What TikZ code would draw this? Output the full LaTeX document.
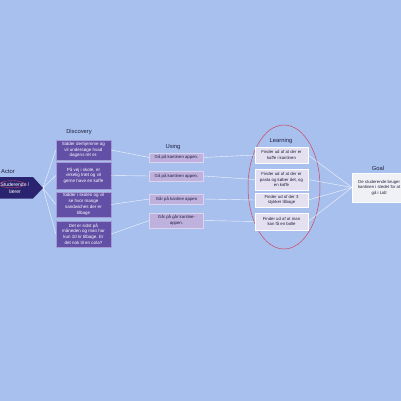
\documentclass[tikz,border=0pt]{standalone}
\usepackage{fontspec}
\setmainfont{Liberation Sans}
\definecolor{bg}{RGB}{168,192,238}
\definecolor{actorc}{RGB}{42,36,112}
\definecolor{discc}{RGB}{98,80,166}
\definecolor{discb}{RGB}{165,155,212}
\definecolor{usec}{RGB}{190,177,222}
\definecolor{learnc}{RGB}{228,224,240}
\definecolor{goalc}{RGB}{240,241,245}
\definecolor{labc}{RGB}{30,30,60}
\definecolor{ellc}{RGB}{205,70,95}
\tikzset{
  boxtxt/.style={font=\fontsize{4.3}{5.6}\selectfont, align=center, inner sep=0pt},
  dbox/.style={boxtxt, font=\fontsize{4.5}{5.8}\selectfont, fill=discc, draw=discb, line width=0.4pt, text=white},
  ubox/.style={boxtxt, fill=usec, draw=white!45!usec, line width=0.3pt, text=labc},
  lbox/.style={boxtxt, fill=learnc, draw=white, line width=0.3pt, text=labc},
  gbox/.style={boxtxt, fill=goalc, draw=white, line width=0.3pt, text=labc},
  lab/.style={font=\fontsize{5.8}{7}\selectfont, text=labc, inner sep=0pt},
  conn/.style={draw=white, draw opacity=0.85, line width=0.4pt}
}
\begin{document}
\begin{tikzpicture}[x=1pt,y=-1pt]
\useasboundingbox (0,0) rectangle (401,401);
\clip (0,0) rectangle (401,401);
\fill[bg] (0,0) rectangle (401,401);
% Learning ellipse
\draw[ellc, line width=0.5pt] (284,187) ellipse [x radius=36, y radius=62];
% Labels
\node[lab] (lact) at (8,172) {Actor};
\node[lab] (ldisc) at (79,132) {Discovery};
\node[lab] (luse) at (173,147) {Using};
\node[lab] (llearn) at (281,141) {Learning};
\node[lab] (lgoal) at (378,168) {Goal};
% Actor
\fill[actorc] (-5,177) -- (33,177) -- (43,188) -- (33,198.5) -- (-5,198.5) -- cycle;
\node[font=\fontsize{5}{7}\selectfont, text=white, align=center, inner sep=0pt] (actor) at (15,188) {Studerende /\\lærer};
\draw[ellc, line width=0.35pt] (12,184.3) ellipse [x radius=12.5, y radius=3.6];
\coordinate (atip) at (43,188);
% Discovery
\node[dbox, minimum width=55pt, minimum height=20pt] (d1) at (83.5,150) {Sidder derhjemme og\\vil undersøge hvad\\dagens ret er.};
\node[dbox, minimum width=55pt, minimum height=27pt] (d2) at (83.5,175.5) {På vej i skole, er\\virkelig træt og vil\\gerne have en kaffe};
\node[dbox, minimum width=55pt, minimum height=25pt] (d3) at (83.5,204.5) {Sidder i skolen og vil\\se hvor mange\\sandwiches der er\\tilbage};
\node[dbox, minimum width=55pt, minimum height=26pt] (d4) at (83.5,234) {Det er sidst på\\måneden og man har\\kun 10 kr tilbage. Er\\det nok til en cola?};
% Using
\node[ubox, minimum width=54pt, minimum height=9.5pt] (u1) at (176.5,157.5) {Gå på kantinen appen.};
\node[ubox, minimum width=54pt, minimum height=10pt] (u2) at (176.5,176) {Gå på kantinen appen.};
\node[ubox, minimum width=54pt, minimum height=10pt] (u3) at (176.5,199) {Går på kantine appen};
\node[ubox, minimum width=54pt, minimum height=15pt] (u4) at (176.5,220.5) {Går på går kantine-\\appen.};
% Learning
\node[lbox, minimum width=53pt, minimum height=16pt] (l1) at (281.5,155) {Finder ud af at der er\\kaffe i kantinen};
\node[lbox, minimum width=53pt, minimum height=21pt] (l2) at (281.5,179.5) {Finder ud af at der er\\pasta og køber det, og\\en kaffe};
\node[lbox, minimum width=53pt, minimum height=14pt] (l3) at (281.5,200) {Finder ud af der 3\\stykker tilbage};
\node[lbox, minimum width=53pt, minimum height=17pt] (l4) at (281.5,221.5) {Finder ud af at man\\kan få en bolle};
% Goal
\node[gbox, minimum width=54pt, minimum height=29pt, anchor=west] (g) at (352,187.5) {De studerende bruger\\kantinen i stedet for at\\gå i Lidl};
% Connectors
\foreach \d in {d1,d2,d3,d4} \draw[conn] (atip) -- (\d.west);
\draw[conn] (d1.east) -- (u1.west);
\draw[conn] (d2.east) -- (u2.west);
\draw[conn] (d3.east) -- (u3.west);
\draw[conn] (d4.east) -- (u4.west);
\draw[conn] (u1.east) -- (l1.west);
\draw[conn] (u2.east) -- (l2.west);
\draw[conn] (u3.east) -- (l3.west);
\draw[conn] (u4.east) -- (l4.west);
\foreach \l in {l1,l2,l3,l4} \draw[conn] (\l.east) -- (g.west);
\end{tikzpicture}
\end{document}
